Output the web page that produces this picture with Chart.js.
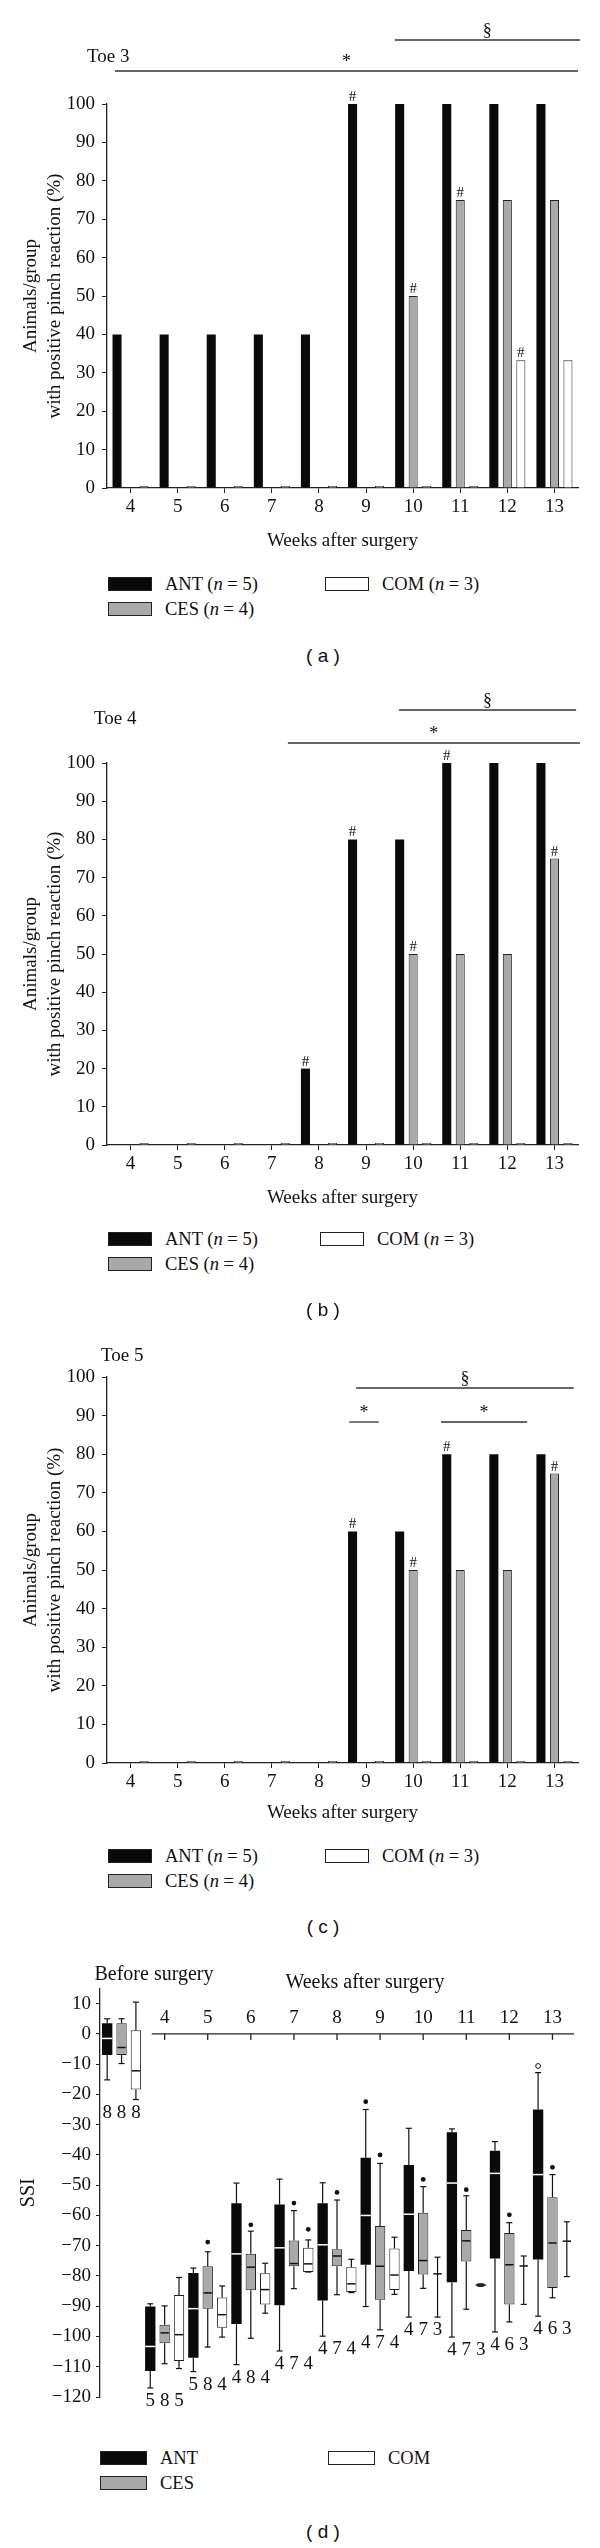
<!DOCTYPE html>
<html>
<head>
<meta charset="utf-8">
<script src="https://cdn.jsdelivr.net/npm/chart.js@4.4.1/dist/chart.umd.min.js"></script>
<style>
body { margin: 0; background: #fff; }
#page { position: relative; width: 600px; height: 2548px; font-family: "Liberation Serif", serif; color: #111; overflow: hidden; }
canvas { position: absolute; left: 0; }
.leg { position: absolute; font-size: 18.5px; line-height: 20px; white-space: nowrap; }
.sw { position: absolute; box-sizing: border-box; border: 1px solid #222; }
.panel { position: absolute; left: 0; width: 646px; text-align: center; font-family: "Liberation Sans", sans-serif; font-size: 19px; line-height: 22px; }
</style>
</head>
<body>
<div id="page">
	<canvas id="toe3" width="600" height="560" style="top:0px"></canvas>
	<canvas id="toe4" width="600" height="540" style="top:680px"></canvas>
	<canvas id="toe5" width="600" height="510" style="top:1320px"></canvas>
	<canvas id="ssi" width="600" height="470" style="top:1950px"></canvas>
</div>
<script>
// categories
const weeks = ["4", "5", "6", "7", "8", "9", "10", "11", "12", "13"];
const groups = ["ANT", "CES", "COM"];
const groupN = [5, 4, 3];
const groupFill = ["#0a0a0a", "#a9a9a9", "#ffffff"];

// (a) toe 3, % animals with positive pinch reaction
const toe3Ant = [40, 40, 40, 40, 40, 100, 100, 100, 100, 100];
const toe3Ces = [0, 0, 0, 0, 0, 0, 50, 75, 75, 75];
const toe3Com = [0, 0, 0, 0, 0, 0, 0, 0, 33.3, 33.3];
const toe3Hash = [[0, 5], [1, 6], [1, 7], [2, 8]];

// (b) toe 4
const toe4Ant = [0, 0, 0, 0, 20, 80, 80, 100, 100, 100];
const toe4Ces = [0, 0, 0, 0, 0, 0, 50, 50, 50, 75];
const toe4Com = [0, 0, 0, 0, 0, 0, 0, 0, 0, 0];
const toe4Hash = [[0, 4], [0, 5], [1, 6], [0, 7], [1, 9]];

// (c) toe 5
const toe5Ant = [0, 0, 0, 0, 0, 60, 60, 80, 80, 80];
const toe5Ces = [0, 0, 0, 0, 0, 0, 50, 50, 50, 75];
const toe5Com = [0, 0, 0, 0, 0, 0, 0, 0, 0, 0];
const toe5Hash = [[0, 5], [1, 6], [0, 7], [1, 9]];

// (d) SSI box plots: [min, q1, median, q3, max]
const ssiCats = ["Before surgery", "4", "5", "6", "7", "8", "9", "10", "11", "12", "13"];
const antStats = [
	[-15.2, -7, -1.5, 3.5, 5],
	[-117, -111.4, -103.3, -90.1, -89.2],
	[-111.6, -107, -90.8, -79, -77.4],
	[-109.3, -95.9, -72.7, -56, -49.3],
	[-104.8, -89.7, -70.7, -56.4, -48],
	[-99.9, -88.1, -69.7, -56, -49.2],
	[-90.1, -76.3, -60, -40.9, -25],
	[-93.6, -78.4, -59.6, -43.3, -31.2],
	[-100.2, -82.1, -49.3, -32.5, -31.4],
	[-98.5, -74.2, -46.1, -38.6, -35.6],
	[-93.3, -74.6, -46.5, -25, -12.8],
];
const cesStats = [
	[-9.8, -7, -4.5, 3.5, 5],
	[-109, -102.2, -98.8, -96.1, -89.9],
	[-103.5, -90.8, -85.6, -76.8, -72],
	[-100.6, -84.7, -77.1, -72.7, -65.2],
	[-84.2, -76.8, -75.9, -68.3, -58.4],
	[-86.2, -76.8, -73.4, -71.2, -54.9],
	[-97.8, -87.9, -76.8, -63.5, -42.8],
	[-84.1, -79.5, -74.9, -59.1, -50.5],
	[-91, -75.2, -68.4, -64.8, -53.5],
	[-95.2, -89.4, -76.3, -65.8, -62.4],
	[-87.2, -84, -69.1, -54, -46.5],
];
const comStats = [
	[-21.7, -18.4, -12.2, 1.2, 10.5],
	[-110.6, -108.1, -99.4, -86.3, -80.5],
	[-100.2, -97.1, -92.8, -87.1, -83.3],
	[-92.3, -89.4, -84.5, -79.1, -75.8],
	[-78.7, -78.7, -76, -70.7, -68.1],
	[-85.5, -85.3, -82.6, -77.1, -74.5],
	[-86.1, -84.6, -79.7, -70.9, -67.2],
	[-93.6, -79.3, -79.3, -79.3, -73.8],
	[-83.4, -83.4, -83, -82.6, -82.6],
	[-89.4, -76.7, -76.7, -76.7, -73.4],
	[-80.2, -68.5, -68.5, -68.5, -62.1],
];
// outliers: [category index, value, filled]
const antOut = [[6, -22.4, true], [10, -10.6, false]];
const cesOut = [[2, -68.8, true], [3, -63.1, true], [4, -55.9, true], [5, -52.4, true], [6, -40, true], [7, -48.1, true], [8, -51.5, true], [9, -59.8, true], [10, -44.1, true]];
const comOut = [[4, -64.6, true]];
// animals per box
const antCount = [8, 5, 5, 4, 4, 4, 4, 4, 4, 4, 4];
const cesCount = [8, 8, 8, 8, 7, 7, 7, 7, 7, 6, 6];
const comCount = [8, 5, 4, 4, 4, 4, 4, 3, 3, 3, 3];

const serif = "Liberation Serif";
const ink = "#111";
Chart.defaults.font.family = serif;
Chart.defaults.color = ink;

const toePlugin = {
	id: "toeMarks",
	afterDraw(chart, args, opts) {
		const ctx = chart.ctx;
		const xs = chart.scales.x;
		ctx.save();
		ctx.fillStyle = ink;
		ctx.font = `19px "${serif}"`;
		ctx.textBaseline = "middle";
		ctx.textAlign = "left";
		ctx.fillText(opts.toe, opts.toeX, opts.toeY);
		// significance lines
		ctx.strokeStyle = "#333";
		ctx.lineWidth = 1.3;
		ctx.textAlign = "center";
		ctx.textBaseline = "alphabetic";
		ctx.font = `18px "${serif}"`;
		opts.sig.forEach((s) => {
			const x1 = xs.getPixelForValue(s.from);
			const x2 = xs.getPixelForValue(s.to);
			ctx.beginPath();
			ctx.moveTo(x1, s.y);
			ctx.lineTo(x2, s.y);
			ctx.stroke();
			ctx.fillText(s.mark, (x1 + x2) / 2, s.y - 4);
		});
		// # marks above bars
		ctx.font = `15px "${serif}"`;
		opts.hash.forEach(([di, i]) => {
			const bar = chart.getDatasetMeta(di).data[i];
			ctx.fillText("#", bar.x, bar.y - 3);
		});
		ctx.restore();
	},
};

const toeChart = (id, ant, ces, com, padTop, xHeight, titlePad, marks) => {
	return new Chart(document.getElementById(id), {
		type: "bar",
		data: {
			labels: weeks,
			datasets: [
				{ label: groups[0], data: ant, backgroundColor: groupFill[0], borderWidth: 0 },
				{ label: groups[1], data: ces, backgroundColor: groupFill[1], borderColor: "#222", borderWidth: 1 },
				{ label: groups[2], data: com, backgroundColor: groupFill[2], borderColor: "#222", borderWidth: 1, minBarLength: 2 },
			],
		},
		options: {
			responsive: false,
			animation: false,
			categoryPercentage: 0.86,
			barPercentage: 0.67,
			layout: { padding: { top: padTop, right: 22, bottom: 0, left: 0 } },
			plugins: { legend: { display: false }, tooltip: { enabled: false }, toeMarks: marks },
			scales: {
				x: {
					offset: true,
					ticks: { font: { size: 19 }, padding: 3, color: ink },
					grid: { offset: false, drawOnChartArea: false, tickLength: 5, color: "#222" },
					border: { color: "#222", width: 1.3 },
					title: { display: true, text: "Weeks after surgery", font: { size: 19 }, color: ink, padding: { top: 0, bottom: titlePad } },
					afterFit: (s) => { s.height = xHeight; },
				},
				y: {
					min: 0,
					max: 100,
					ticks: { stepSize: 10, font: { size: 19 }, padding: 7, color: ink },
					grid: { drawOnChartArea: false, tickLength: 5, color: "#222" },
					border: { color: "#222", width: 1.3 },
					title: {
						display: true,
						text: ["Animals/group", "with positive pinch reaction (%)"],
						font: { size: 19, lineHeight: 1.25 },
						color: ink,
						padding: { top: 19, bottom: 0 },
					},
					afterFit: (s) => { s.width = 107; },
				},
			},
		},
		plugins: [toePlugin],
	});
};

toeChart("toe3", toe3Ant, toe3Ces, toe3Com, 104, 72, 8, {
	toe: "Toe 3", toeX: 87, toeY: 57, hash: toe3Hash,
	sig: [{ mark: "§", from: 5.61, to: 9.54, y: 40 }, { mark: "*", from: -0.33, to: 9.5, y: 71 }],
});
toeChart("toe4", toe4Ant, toe4Ces, toe4Com, 83, 75, 11, {
	toe: "Toe 4", toeX: 94, toeY: 39, hash: toe4Hash,
	sig: [{ mark: "§", from: 5.7, to: 9.46, y: 30 }, { mark: "*", from: 3.34, to: 9.54, y: 63 }],
});
toeChart("toe5", toe5Ant, toe5Ces, toe5Com, 57, 67, 6, {
	toe: "Toe 5", toeX: 101, toeY: 36, hash: toe5Hash,
	sig: [{ mark: "§", from: 4.79, to: 9.41, y: 68 }, { mark: "*", from: 4.64, to: 5.27, y: 102 }, { mark: "*", from: 6.59, to: 8.42, y: 102 }],
});

// box plot whiskers, medians, outliers and counts
const boxPlugin = {
	id: "boxParts",
	afterDatasetsDraw(chart) {
		const ctx = chart.ctx;
		const ys = chart.scales.y;
		const xs = chart.scales.x;
		const allStats = [antStats, cesStats, comStats];
		const allOut = [antOut, cesOut, comOut];
		const allCount = [antCount, cesCount, comCount];
		const line = (x1, y1, x2, y2) => {
			ctx.beginPath();
			ctx.moveTo(x1, y1);
			ctx.lineTo(x2, y2);
			ctx.stroke();
		};
		ctx.save();
		allStats.forEach((stats, di) => {
			const meta = chart.getDatasetMeta(di);
			stats.forEach((s, i) => {
				const el = meta.data[i];
				const x = el.x;
				const w = el.width;
				const [mn, q1, md, q3, mx] = s.map((v) => ys.getPixelForValue(v));
				ctx.strokeStyle = ink;
				ctx.lineWidth = 1.2;
				if (mx < q3) line(x, mx, x, q3);
				if (mn > q1) line(x, q1, x, mn);
				line(x - 3, mx, x + 3, mx);
				line(x - 3, mn, x + 3, mn);
				ctx.strokeStyle = di === 0 ? "#fff" : ink;
				ctx.lineWidth = 1.5;
				line(x - w / 2 + (di === 0 ? 0 : 1), md, x + w / 2 - (di === 0 ? 0 : 1), md);
			});
			allOut[di].forEach(([i, v, filled]) => {
				const x = meta.data[i].x;
				const y = ys.getPixelForValue(v);
				ctx.beginPath();
				ctx.arc(x, y, 2.4, 0, Math.PI * 2);
				if (filled) {
					ctx.fillStyle = ink;
					ctx.fill();
				} else {
					ctx.strokeStyle = ink;
					ctx.lineWidth = 1;
					ctx.stroke();
				}
			});
		});
		// n per box, under the lowest whisker of each group
		ctx.fillStyle = ink;
		ctx.font = `19px "${serif}"`;
		ctx.textAlign = "center";
		ctx.textBaseline = "middle";
		ssiCats.forEach((c, i) => {
			const low = Math.min(...allStats.map((st) => st[i][0]));
			const y = ys.getPixelForValue(low) + 13;
			allCount.forEach((cnt, di) => {
				ctx.fillText(String(cnt[i]), chart.getDatasetMeta(di).data[i].x, y);
			});
		});
		// week axis drawn along SSI = 0
		const y0 = ys.getPixelForValue(0);
		ctx.strokeStyle = "#222";
		ctx.lineWidth = 1.3;
		line(xs.getPixelForValue(0.7), y0, chart.chartArea.right, y0);
		for (let i = 1; i < ssiCats.length; i++) {
			const x = xs.getPixelForValue(i);
			line(x, y0, x, y0 + 6);
			ctx.fillText(ssiCats[i], x, y0 - 16);
		}
		ctx.font = `20px "${serif}"`;
		ctx.fillText(ssiCats[0], 154, 25);
		ctx.fillText("Weeks after surgery", 365, 33);
		ctx.restore();
	},
};

const floating = (stats) => stats.map((s) => [s[1], s[3]]);

new Chart(document.getElementById("ssi"), {
	type: "bar",
	data: {
		labels: ssiCats,
		datasets: [
			{ label: groups[0], data: floating(antStats), backgroundColor: groupFill[0], borderWidth: 0 },
			{ label: groups[1], data: floating(cesStats), backgroundColor: groupFill[1], borderColor: "#222", borderWidth: 1, borderSkipped: false },
			{ label: groups[2], data: floating(comStats), backgroundColor: groupFill[2], borderColor: "#222", borderWidth: 1, borderSkipped: false },
		],
	},
	options: {
		responsive: false,
		animation: false,
		categoryPercentage: 1.0,
		barPercentage: 0.72,
		layout: { padding: { top: 38.5, right: 26, bottom: 23, left: 0 } },
		plugins: { legend: { display: false }, tooltip: { enabled: false } },
		scales: {
			x: { display: false, offset: true },
			y: {
				min: -120,
				max: 15,
				ticks: {
					stepSize: 5,
					font: { size: 19 },
					padding: 5,
					color: ink,
					callback: (v) => (v % 10 === 0 ? String(v).replace("-", "\u2212") : ""),
				},
				grid: { drawOnChartArea: false, tickLength: 4, color: "#222" },
				border: { color: "#222", width: 1.3 },
				title: { display: true, text: "SSI", font: { size: 20 }, color: ink, padding: { top: 17, bottom: 0 } },
				afterFit: (s) => { s.width = 100; },
			},
		},
	},
	plugins: [boxPlugin],
});

// legends and panel letters
const page = document.getElementById("page");
const addLegend = (top, left, comLeft, swW, textOff, withN) => {
	const spots = [[left, top], [left, top + 25], [comLeft, top]];
	groups.forEach((g, i) => {
		const [x, y] = spots[i];
		const sw = document.createElement("div");
		sw.className = "sw";
		sw.style.cssText = `left:${x}px;top:${y}px;width:${swW}px;height:14px;background:${groupFill[i]}`;
		page.appendChild(sw);
		const t = document.createElement("div");
		t.className = "leg";
		t.style.left = x + textOff + "px";
		t.style.top = y - 3 + "px";
		t.innerHTML = withN ? `${g} (<i>n</i> = ${groupN[i]})` : g;
		page.appendChild(t);
	});
};
addLegend(577, 108, 325, 44, 57, true);
addLegend(1232, 108, 320, 44, 57, true);
addLegend(1849, 108, 325, 44, 57, true);
addLegend(2451, 100, 328, 47, 60, false);

[["a", 645], ["b", 1299], ["c", 1916], ["d", 2521]].forEach(([c, y]) => {
	const d = document.createElement("div");
	d.className = "panel";
	d.style.top = y + "px";
	d.textContent = `( ${c} )`;
	page.appendChild(d);
});
</script>
</body>
</html>
